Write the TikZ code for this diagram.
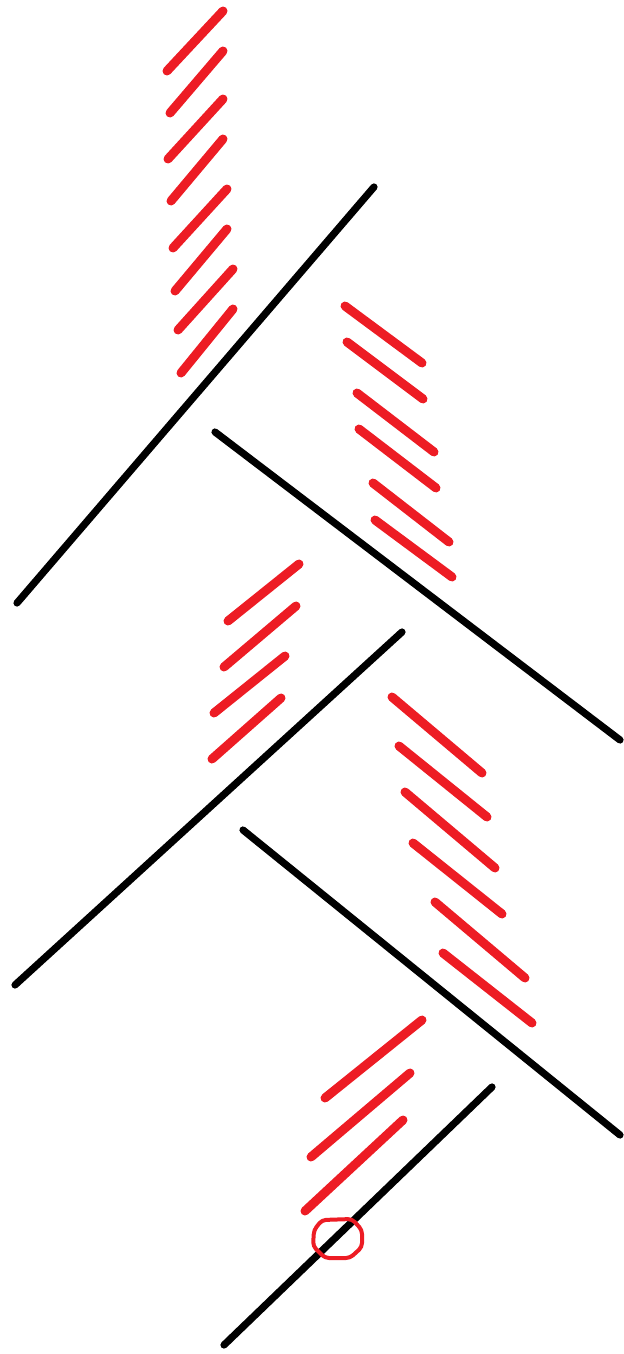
\documentclass[tikz,border=0pt]{standalone}
\usepackage{tikz}
\definecolor{PaintRed}{HTML}{ED1C24}
\definecolor{PaintBlack}{HTML}{000000}

\begin{document}
\begin{tikzpicture}[x=0.5pt, y=-0.5pt,
    wall/.style={line width=3.6pt, PaintBlack, line cap=round},
    hatch/.style={line width=4.5pt, PaintRed, line cap=round}]
    % Canvas size of the sketch
    \useasboundingbox (0,0) rectangle (623,1354);

    % Black strokes
    \draw[wall] (17,603) -- (374,187);
    \draw[wall] (215,432) -- (620,740);
    \draw[wall] (15,985) -- (402,632);
    \draw[wall] (243,830) -- (620,1135);
    \draw[wall] (224,1345) -- (492,1087);

    % Red hatching, top group
    \foreach \xa/\ya/\xb/\yb in {
        167/71/223/11, 170/113/223/51, 168/159/223/99, 171/201/223/139,
        173/248/227/189, 175/291/227/229, 178/330/233/269, 181/373/233/309}{
      \draw[hatch] (\xa,\ya) -- (\xb,\yb);
    }

    % Red hatching, second group
    \foreach \xa/\ya/\xb/\yb in {
        345/306/422/363, 347/342/423/399, 357/393/434/452,
        359/429/436/488, 373/483/449/542, 375/520/452/577}{
      \draw[hatch] (\xa,\ya) -- (\xb,\yb);
    }

    % Red hatching, third group
    \foreach \xa/\ya/\xb/\yb in {
        228/621/299/564, 224/667/296/606, 214/713/285/656, 212/759/281/698}{
      \draw[hatch] (\xa,\ya) -- (\xb,\yb);
    }

    % Red hatching, fourth group
    \foreach \xa/\ya/\xb/\yb in {
        392/697/482/773, 399/746/487/817, 405/792/495/868,
        413/843/502/914, 435/902/525/978, 443/953/532/1023}{
      \draw[hatch] (\xa,\ya) -- (\xb,\yb);
    }

    % Red hatching, bottom group
    \foreach \xa/\ya/\xb/\yb in {
        325/1098/422/1020, 311/1157/410/1073, 305/1211/403/1120}{
      \draw[hatch] (\xa,\ya) -- (\xb,\yb);
    }

    % Red ring on the last stroke
    \draw[PaintRed, line width=2pt, line join=round, rounded corners=2pt]
      (322,1220) -- (352,1219) -- (362,1230) -- (362,1247) -- (350,1258)
      -- (325,1258) -- (313,1246) -- (314,1230) -- cycle;
\end{tikzpicture}
\end{document}
